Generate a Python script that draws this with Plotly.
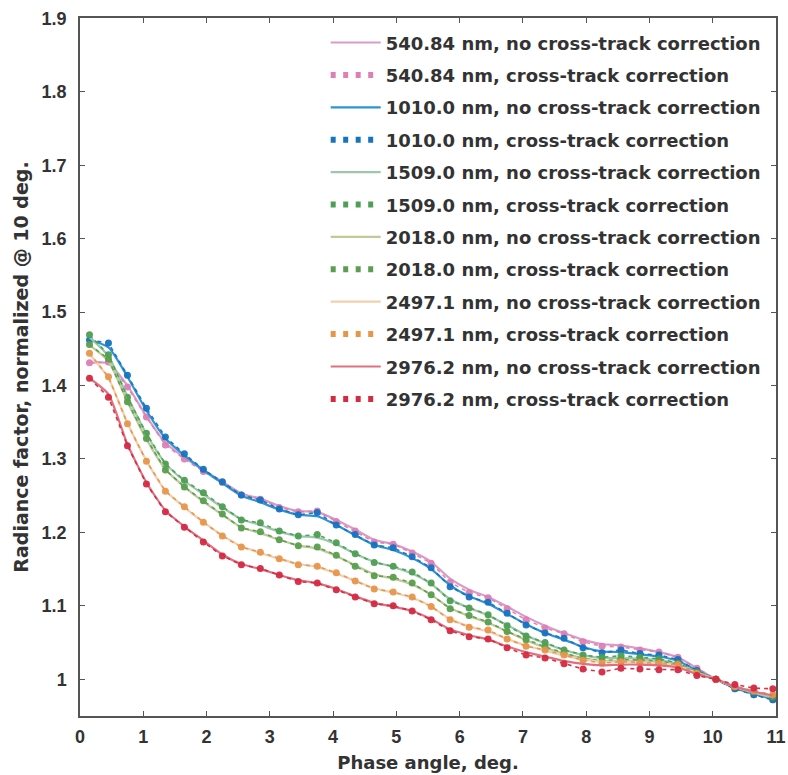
import plotly.graph_objects as go

phase = [0.15, 0.45, 0.75, 1.05, 1.35, 1.65, 1.95, 2.25, 2.55, 2.85, 3.15, 3.45, 3.75,
         4.05, 4.35, 4.65, 4.95, 5.25, 5.55, 5.85, 6.15, 6.45, 6.75, 7.05, 7.35, 7.65,
         7.95, 8.25, 8.55, 8.85, 9.15, 9.45, 9.75, 10.05, 10.35, 10.65, 10.95]

# 540.84 nm
r540_nc = [1.431, 1.430, 1.400, 1.358, 1.322, 1.302, 1.285, 1.269, 1.253, 1.246, 1.236, 1.229, 1.228,
           1.217, 1.204, 1.190, 1.184, 1.174, 1.160, 1.137, 1.122, 1.112, 1.099, 1.085, 1.073, 1.063,
           1.054, 1.048, 1.046, 1.042, 1.037, 1.030, 1.015, 1.000, 0.988, 0.980, 0.973]
r540_c = [1.431, 1.432, 1.398, 1.357, 1.319, 1.300, 1.283, 1.268, 1.251, 1.245, 1.234, 1.228, 1.229,
          1.215, 1.202, 1.187, 1.184, 1.172, 1.158, 1.132, 1.118, 1.111, 1.096, 1.081, 1.070, 1.062,
          1.051, 1.045, 1.044, 1.040, 1.037, 1.030, 1.015, 1.000, 0.987, 0.979, 0.972]
# 1010.0 nm
r1010_nc = [1.462, 1.452, 1.412, 1.366, 1.328, 1.305, 1.285, 1.267, 1.250, 1.241, 1.231, 1.224, 1.222,
            1.210, 1.196, 1.183, 1.176, 1.165, 1.150, 1.128, 1.113, 1.103, 1.089, 1.075, 1.063, 1.054,
            1.044, 1.038, 1.037, 1.034, 1.031, 1.025, 1.012, 1.000, 0.988, 0.980, 0.973]
r1010_c = [1.462, 1.458, 1.414, 1.369, 1.330, 1.307, 1.286, 1.269, 1.251, 1.244, 1.232, 1.224, 1.227,
           1.210, 1.197, 1.183, 1.179, 1.167, 1.152, 1.126, 1.112, 1.105, 1.090, 1.074, 1.063, 1.056,
           1.043, 1.036, 1.040, 1.035, 1.033, 1.027, 1.012, 1.000, 0.987, 0.979, 0.972]
# 1509.0 nm
r1509_nc = [1.466, 1.440, 1.385, 1.334, 1.294, 1.270, 1.252, 1.234, 1.218, 1.210, 1.201, 1.195, 1.193,
            1.184, 1.171, 1.160, 1.153, 1.144, 1.130, 1.109, 1.097, 1.087, 1.074, 1.060, 1.049, 1.040,
            1.033, 1.029, 1.029, 1.028, 1.026, 1.021, 1.010, 1.000, 0.990, 0.982, 0.975]
r1509_c = [1.469, 1.442, 1.384, 1.335, 1.293, 1.271, 1.254, 1.235, 1.217, 1.213, 1.202, 1.195, 1.197,
           1.186, 1.171, 1.159, 1.154, 1.146, 1.131, 1.107, 1.097, 1.088, 1.073, 1.059, 1.050, 1.040,
           1.033, 1.030, 1.032, 1.030, 1.028, 1.022, 1.010, 1.000, 0.990, 0.983, 0.976]
# 2018.0 nm
r2018_nc = [1.455, 1.433, 1.378, 1.327, 1.286, 1.262, 1.242, 1.224, 1.207, 1.199, 1.190, 1.182, 1.178,
            1.168, 1.155, 1.143, 1.137, 1.129, 1.115, 1.097, 1.086, 1.077, 1.065, 1.053, 1.043, 1.035,
            1.029, 1.025, 1.025, 1.025, 1.023, 1.019, 1.009, 1.000, 0.990, 0.982, 0.976]
r2018_c = [1.456, 1.436, 1.378, 1.328, 1.285, 1.262, 1.243, 1.225, 1.206, 1.201, 1.190, 1.182, 1.180,
           1.169, 1.154, 1.141, 1.139, 1.131, 1.115, 1.096, 1.087, 1.078, 1.065, 1.054, 1.044, 1.036,
           1.028, 1.025, 1.027, 1.026, 1.025, 1.020, 1.009, 1.000, 0.990, 0.983, 0.977]
# 2497.1 nm
r2497_nc = [1.443, 1.410, 1.349, 1.298, 1.257, 1.234, 1.214, 1.196, 1.181, 1.172, 1.164, 1.157, 1.153,
            1.144, 1.134, 1.124, 1.118, 1.111, 1.099, 1.082, 1.072, 1.065, 1.055, 1.046, 1.039, 1.032,
            1.027, 1.024, 1.024, 1.023, 1.022, 1.018, 1.008, 1.000, 0.990, 0.983, 0.977]
r2497_c = [1.444, 1.412, 1.348, 1.297, 1.256, 1.235, 1.214, 1.195, 1.180, 1.173, 1.164, 1.156, 1.154,
           1.145, 1.134, 1.123, 1.119, 1.112, 1.099, 1.081, 1.071, 1.067, 1.055, 1.045, 1.040, 1.033,
           1.026, 1.022, 1.024, 1.023, 1.022, 1.020, 1.008, 1.000, 0.990, 0.984, 0.979]
# 2976.2 nm
r2976_nc = [1.410, 1.388, 1.320, 1.268, 1.230, 1.208, 1.189, 1.170, 1.157, 1.150, 1.142, 1.135, 1.131,
            1.123, 1.113, 1.104, 1.099, 1.093, 1.082, 1.068, 1.060, 1.054, 1.045, 1.037, 1.031, 1.025,
            1.021, 1.019, 1.020, 1.020, 1.019, 1.016, 1.007, 1.000, 0.990, 0.983, 0.978]
r2976_c = [1.410, 1.384, 1.318, 1.266, 1.228, 1.207, 1.187, 1.168, 1.156, 1.151, 1.142, 1.133, 1.131,
           1.122, 1.112, 1.103, 1.100, 1.093, 1.081, 1.066, 1.058, 1.055, 1.043, 1.033, 1.029, 1.021,
           1.014, 1.010, 1.015, 1.014, 1.013, 1.013, 1.005, 1.000, 0.993, 0.988, 0.987]

wavelengths = ["540.84", "1010.0", "1509.0", "2018.0", "2497.1", "2976.2"]
nc_series = [r540_nc, r1010_nc, r1509_nc, r2018_nc, r2497_nc, r2976_nc]
c_series = [r540_c, r1010_c, r1509_c, r2018_c, r2497_c, r2976_c]
nc_colors = ["#d99cc6", "#2d94d2", "#9cc8aa", "#bccb98", "#f2cfae", "#e0707e"]
c_colors = ["#de7fb5", "#1673c0", "#4e9e55", "#5a9e4e", "#e8954a", "#d42a42"]

FONT = "DejaVu Sans, Liberation Sans, Arial"
TICKFONT = "Liberation Sans, Arial"
TXT = "#333333"

fig = go.Figure()
for i, wl in enumerate(wavelengths):
    fig.add_trace(go.Scatter(x=phase, y=nc_series[i], mode="lines",
                             line=dict(color=nc_colors[i], width=2.2, shape="spline", smoothing=0.6),
                             showlegend=False, hoverinfo="skip"))
    fig.add_trace(go.Scatter(x=phase, y=c_series[i], mode="lines+markers",
                             line=dict(color=c_colors[i], width=1.6, dash="4px,4px"),
                             marker=dict(color=c_colors[i], size=7),
                             opacity=0.95, showlegend=False, hoverinfo="skip"))

for i, wl in enumerate(wavelengths):
    fig.add_trace(go.Scatter(x=[None], y=[None], mode="lines",
                             line=dict(color=nc_colors[i], width=2.2),
                             name=f"{wl} nm, no cross-track correction",
                             legendgroup=f"g{2*i}"))
    fig.add_trace(go.Scatter(x=[None], y=[None], mode="lines",
                             line=dict(color=c_colors[i], width=6, dash="5px,7.5px"),
                             name=f"{wl} nm, cross-track correction",
                             legendgroup=f"g{2*i+1}"))

axis_common = dict(showline=True, linecolor="#555555", linewidth=1.5, mirror="ticks",
                   ticks="inside", ticklen=5, tickcolor="#555555", showgrid=False,
                   zeroline=False, automargin=False,
                   tickfont=dict(family=TICKFONT, size=18, color=TXT, weight="bold"))

fig.update_layout(
    width=788, height=775,
    margin=dict(l=80, r=12, t=18, b=59, autoexpand=False),
    paper_bgcolor="white", plot_bgcolor="white",
    font=dict(family=FONT, size=18, color=TXT, weight="bold"),
    xaxis=dict(range=[0, 11], dtick=1, tick0=0,
               title=dict(text="Phase angle, deg.", standoff=10,
                          font=dict(family=FONT, size=18, color=TXT, weight="bold")),
               ticklabelstandoff=4, **axis_common),
    yaxis=dict(range=[0.95, 1.9005], dtick=0.1, tick0=1.0,
               title=dict(text="Radiance factor, normalized @ 10 deg.", standoff=8,
                          font=dict(family=FONT, size=19, color=TXT, weight="bold")),
               ticklabelstandoff=8, **axis_common),
    legend=dict(x=0.353, y=0.991, xanchor="left", yanchor="top",
                bgcolor="rgba(0,0,0,0)", borderwidth=0, itemwidth=50,
                traceorder="grouped", tracegroupgap=6,
                font=dict(family=FONT, size=18, color=TXT, weight="bold")),
)

fig.write_html("out.html")
